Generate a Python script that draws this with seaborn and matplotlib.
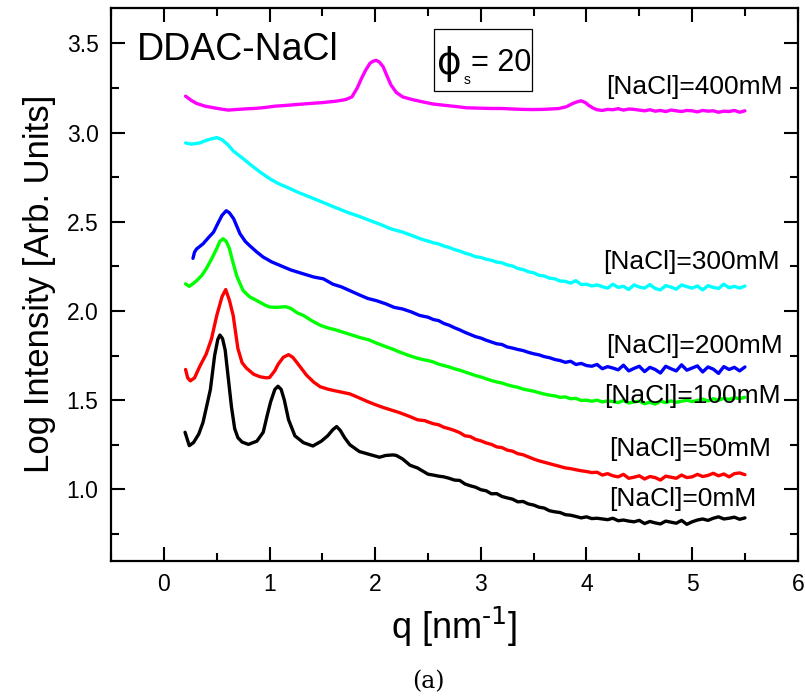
import numpy as np
import pandas as pd
import matplotlib
matplotlib.use("Agg")
import matplotlib.pyplot as plt
from matplotlib.ticker import MultipleLocator, FormatStrFormatter
from matplotlib.patches import Rectangle
import seaborn as sns

# ---- SAXS curves: log intensity vs q for DDAC at several NaCl concentrations ----
# low-q part (Bragg peaks) and high-q tail of each curve

q_0mM_low = [0.20, 0.24, 0.28, 0.33, 0.37, 0.41, 0.44, 0.48, 0.51, 0.53, 0.555, 0.58, 0.61, 0.64,
             0.67, 0.70, 0.74, 0.80, 0.88, 0.94, 0.98, 1.01, 1.05, 1.08, 1.11, 1.14, 1.18, 1.24,
             1.32, 1.41, 1.49, 1.55, 1.60, 1.635, 1.67, 1.71, 1.76, 1.85, 1.95, 2.04, 2.10, 2.17,
             2.20, 2.26, 2.33, 2.40]
I_0mM_low = [1.32, 1.245, 1.262, 1.31, 1.375, 1.48, 1.56, 1.75, 1.84, 1.865, 1.845, 1.78, 1.62, 1.46,
             1.34, 1.29, 1.265, 1.252, 1.27, 1.32, 1.42, 1.49, 1.56, 1.578, 1.56, 1.50, 1.39, 1.30,
             1.262, 1.243, 1.27, 1.30, 1.335, 1.352, 1.33, 1.29, 1.25, 1.212, 1.195, 1.18, 1.19, 1.193,
             1.19, 1.17, 1.135, 1.12]

q_50mM_low = [0.205, 0.225, 0.25, 0.29, 0.34, 0.40, 0.45, 0.50, 0.55, 0.585, 0.62, 0.656, 0.70, 0.74,
              0.78, 0.85, 0.91, 0.97, 1.00, 1.05, 1.08, 1.13, 1.18, 1.22, 1.26, 1.35, 1.42, 1.48, 1.55,
              1.60, 1.68, 1.76, 1.84, 1.92, 2.00, 2.08, 2.15, 2.23, 2.32, 2.40, 2.47]
I_50mM_low = [1.672, 1.625, 1.608, 1.625, 1.69, 1.758, 1.843, 1.974, 2.08, 2.12, 2.06, 1.974, 1.79, 1.71,
              1.68, 1.645, 1.631, 1.625, 1.627, 1.665, 1.70, 1.74, 1.755, 1.74, 1.71, 1.64, 1.60, 1.575,
              1.562, 1.555, 1.545, 1.535, 1.515, 1.494, 1.475, 1.458, 1.445, 1.43, 1.41, 1.39, 1.385]

q_100mM_low = [0.205, 0.24, 0.28, 0.31, 0.36, 0.40, 0.45, 0.50, 0.53, 0.56, 0.59, 0.62, 0.65, 0.69,
               0.75, 0.81, 0.88, 0.95, 1.00, 1.07, 1.15, 1.20, 1.26, 1.32, 1.40, 1.48, 1.55, 1.62, 1.70,
               1.78, 1.86, 1.94, 2.02, 2.10, 2.17, 2.23, 2.32, 2.40, 2.46]
I_100mM_low = [2.152, 2.138, 2.155, 2.17, 2.20, 2.236, 2.29, 2.35, 2.39, 2.405, 2.39, 2.35, 2.28, 2.195,
               2.114, 2.08, 2.058, 2.035, 2.022, 2.02, 2.024, 2.015, 1.99, 1.975, 1.945, 1.92, 1.905,
               1.895, 1.88, 1.865, 1.85, 1.838, 1.818, 1.80, 1.785, 1.77, 1.75, 1.735, 1.726]

q_200mM_low = [0.275, 0.29, 0.31, 0.37, 0.42, 0.47, 0.51, 0.55, 0.59, 0.62, 0.66, 0.72, 0.77, 0.81,
               0.88, 0.94, 1.02, 1.10, 1.20, 1.32, 1.42, 1.51, 1.60, 1.68, 1.76, 1.85, 1.93, 2.01, 2.10,
               2.18, 2.26, 2.34, 2.42]
I_200mM_low = [2.295, 2.33, 2.348, 2.376, 2.41, 2.442, 2.49, 2.536, 2.562, 2.55, 2.517, 2.433, 2.39, 2.367,
               2.33, 2.302, 2.275, 2.255, 2.23, 2.208, 2.19, 2.18, 2.15, 2.135, 2.114, 2.09, 2.07, 2.058,
               2.04, 2.02, 2.011, 1.995, 1.975]

q_300mM_low = [0.205, 0.26, 0.34, 0.42, 0.50, 0.55, 0.60, 0.66, 0.75, 0.83, 0.91, 1.00, 1.08, 1.16,
               1.27, 1.38, 1.50, 1.63, 1.75, 1.85, 1.95, 2.05, 2.15, 2.26, 2.36, 2.45]
I_300mM_low = [2.942, 2.935, 2.942, 2.96, 2.972, 2.96, 2.935, 2.895, 2.854, 2.815, 2.779, 2.742, 2.715,
               2.695, 2.665, 2.639, 2.61, 2.578, 2.55, 2.53, 2.507, 2.485, 2.46, 2.442, 2.42, 2.40]

q_400mM_low = [0.205, 0.26, 0.31, 0.39, 0.47, 0.54, 0.61, 0.70, 0.78, 0.85, 0.95, 1.05, 1.15, 1.25,
               1.38, 1.50, 1.63, 1.72, 1.78, 1.83, 1.87, 1.91, 1.95, 1.98, 2.01, 2.04, 2.075, 2.11, 2.15,
               2.20, 2.26, 2.35, 2.45, 2.55, 2.67, 2.78, 2.86, 2.98, 3.10, 3.20, 3.30, 3.40, 3.49, 3.58,
               3.66, 3.74, 3.81, 3.87, 3.91, 3.95, 3.99, 4.02, 4.06]
I_400mM_low = [3.204, 3.18, 3.163, 3.148, 3.139, 3.132, 3.126, 3.13, 3.133, 3.135, 3.14, 3.148, 3.152,
               3.157, 3.163, 3.168, 3.176, 3.185, 3.20, 3.25, 3.303, 3.35, 3.388, 3.40, 3.405, 3.395, 3.369,
               3.32, 3.266, 3.225, 3.20, 3.185, 3.172, 3.16, 3.152, 3.145, 3.139, 3.137, 3.135, 3.135,
               3.132, 3.13, 3.129, 3.13, 3.132, 3.135, 3.145, 3.163, 3.172, 3.178, 3.168, 3.153, 3.138]

# high-q tails, sampled every 0.05 nm^-1
q_tail = [2.50, 2.55, 2.60, 2.65, 2.70, 2.75, 2.80, 2.85, 2.90, 2.95, 3.00, 3.05, 3.10, 3.15, 3.20,
          3.25, 3.30, 3.35, 3.40, 3.45, 3.50, 3.55, 3.60, 3.65, 3.70, 3.75, 3.80, 3.85, 3.90, 3.95,
          4.00, 4.05, 4.10, 4.15, 4.20, 4.25, 4.30, 4.35, 4.40, 4.45, 4.50, 4.55, 4.60, 4.65, 4.70,
          4.75, 4.80, 4.85, 4.90, 4.95, 5.00, 5.05, 5.10, 5.15, 5.20, 5.25, 5.30, 5.35, 5.40, 5.45, 5.50]
I_0mM_tail = [1.085, 1.080, 1.074, 1.070, 1.062, 1.052, 1.050, 1.030, 1.020, 1.012, 0.998, 0.992, 0.975,
              0.976, 0.960, 0.952, 0.945, 0.930, 0.932, 0.918, 0.912, 0.900, 0.895, 0.880, 0.874, 0.870,
              0.858, 0.855, 0.848, 0.840, 0.846, 0.836, 0.838, 0.834, 0.830, 0.838, 0.824, 0.828, 0.822,
              0.818, 0.826, 0.808, 0.820, 0.812, 0.806, 0.822, 0.816, 0.810, 0.826, 0.804, 0.818, 0.828,
              0.834, 0.826, 0.838, 0.846, 0.834, 0.838, 0.844, 0.832, 0.840]
I_50mM_tail = [1.378, 1.368, 1.362, 1.348, 1.340, 1.330, 1.318, 1.300, 1.296, 1.280, 1.272, 1.260, 1.252,
               1.238, 1.234, 1.220, 1.214, 1.200, 1.194, 1.182, 1.170, 1.160, 1.152, 1.144, 1.136, 1.128,
               1.120, 1.116, 1.110, 1.104, 1.100, 1.094, 1.096, 1.080, 1.088, 1.076, 1.070, 1.084, 1.062,
               1.068, 1.076, 1.058, 1.072, 1.066, 1.052, 1.074, 1.068, 1.062, 1.080, 1.066, 1.070, 1.084,
               1.072, 1.078, 1.090, 1.076, 1.086, 1.070, 1.088, 1.092, 1.082]
I_100mM_tail = [1.722, 1.714, 1.702, 1.694, 1.686, 1.676, 1.668, 1.658, 1.648, 1.638, 1.630, 1.620, 1.610,
                1.602, 1.596, 1.586, 1.578, 1.572, 1.562, 1.556, 1.550, 1.542, 1.534, 1.528, 1.524, 1.516,
                1.518, 1.508, 1.510, 1.498, 1.500, 1.494, 1.500, 1.490, 1.496, 1.492, 1.486, 1.498, 1.484,
                1.490, 1.494, 1.480, 1.488, 1.478, 1.494, 1.486, 1.496, 1.488, 1.494, 1.500, 1.492, 1.498,
                1.506, 1.496, 1.508, 1.500, 1.510, 1.504, 1.514, 1.508, 1.516]
I_200mM_tail = [1.965, 1.952, 1.946, 1.930, 1.920, 1.906, 1.894, 1.880, 1.868, 1.856, 1.848, 1.836, 1.826,
                1.816, 1.812, 1.798, 1.792, 1.784, 1.778, 1.768, 1.760, 1.754, 1.744, 1.738, 1.728, 1.722,
                1.712, 1.718, 1.700, 1.706, 1.694, 1.690, 1.700, 1.676, 1.688, 1.680, 1.670, 1.696, 1.664,
                1.678, 1.690, 1.660, 1.684, 1.672, 1.652, 1.690, 1.676, 1.664, 1.698, 1.668, 1.680, 1.692,
                1.658, 1.686, 1.674, 1.650, 1.688, 1.672, 1.684, 1.664, 1.686]
I_300mM_tail = [2.392, 2.382, 2.376, 2.364, 2.356, 2.344, 2.336, 2.324, 2.316, 2.304, 2.300, 2.290, 2.284,
                2.274, 2.270, 2.258, 2.252, 2.238, 2.232, 2.220, 2.214, 2.200, 2.196, 2.184, 2.180, 2.168,
                2.166, 2.156, 2.170, 2.148, 2.150, 2.140, 2.146, 2.136, 2.128, 2.150, 2.132, 2.138, 2.120,
                2.146, 2.134, 2.128, 2.148, 2.126, 2.118, 2.142, 2.134, 2.122, 2.146, 2.136, 2.128, 2.140,
                2.118, 2.142, 2.132, 2.126, 2.150, 2.130, 2.138, 2.128, 2.140]
q_400mM_tail = [4.10, 4.15, 4.20, 4.25, 4.30, 4.35, 4.40, 4.45, 4.50, 4.55, 4.60, 4.65, 4.70, 4.75,
                4.80, 4.85, 4.90, 4.95, 5.00, 5.05, 5.10, 5.15, 5.20, 5.25, 5.30, 5.35, 5.40, 5.45, 5.50]
I_400mM_tail = [3.128, 3.124, 3.130, 3.128, 3.134, 3.126, 3.132, 3.130, 3.126, 3.122, 3.128, 3.120, 3.124,
                3.118, 3.126, 3.122, 3.118, 3.124, 3.122, 3.116, 3.124, 3.120, 3.122, 3.114, 3.120, 3.118,
                3.124, 3.114, 3.122]

series_names = ["[NaCl]=0mM", "[NaCl]=50mM", "[NaCl]=100mM",
                "[NaCl]=200mM", "[NaCl]=300mM", "[NaCl]=400mM"]
series_q = [q_0mM_low + q_tail, q_50mM_low + q_tail, q_100mM_low + q_tail,
            q_200mM_low + q_tail, q_300mM_low + q_tail, q_400mM_low + q_400mM_tail]
series_I = [I_0mM_low + I_0mM_tail, I_50mM_low + I_50mM_tail, I_100mM_low + I_100mM_tail,
            I_200mM_low + I_200mM_tail, I_300mM_low + I_300mM_tail, I_400mM_low + I_400mM_tail]
series_colors = ["#000000", "#ff0000", "#00ff00", "#0000ff", "#00ffff", "#ff00ff"]
# label anchor (q, log I) for each curve's tag
label_q = [4.21, 4.21, 4.17, 4.19, 4.16, 4.19]
label_I = [0.944, 1.225, 1.522, 1.803, 2.275, 3.258]

frames = []
for name, qv, iv in zip(series_names, series_q, series_I):
    frames.append(pd.DataFrame({"q": qv, "logI": iv, "sample": name}))
df = pd.concat(frames, ignore_index=True)

sns.set_style("ticks")
plt.rcParams["font.family"] = ["Liberation Sans", "DejaVu Sans"]
plt.rcParams["text.color"] = "black"
plt.rcParams["axes.labelcolor"] = "black"

fig = plt.figure(figsize=(8.05, 7.0), dpi=100)
ax = fig.add_axes([0.138, 0.199, 0.853, 0.790])

sns.lineplot(data=df, x="q", y="logI", hue="sample", hue_order=series_names,
             palette=dict(zip(series_names, series_colors)), sort=False,
             estimator=None, legend=False, linewidth=2.4, ax=ax)

ax.set_xlim(-0.5, 6.0)
ax.set_ylim(0.6, 3.7)
ax.xaxis.set_major_locator(MultipleLocator(1))
ax.xaxis.set_minor_locator(MultipleLocator(0.5))
ax.yaxis.set_major_locator(MultipleLocator(0.5))
ax.yaxis.set_minor_locator(MultipleLocator(0.25))
ax.yaxis.set_major_formatter(FormatStrFormatter("%.1f"))
ax.tick_params(which="both", direction="in", top=True, right=True, width=1.5,
               labelsize=16.5, colors="black")
ax.tick_params(which="major", length=10)
ax.tick_params(which="minor", length=6)
ax.tick_params(axis="y", pad=9)
ax.tick_params(axis="x", pad=9)
for sp in ax.spines.values():
    sp.set_linewidth(1.6)
    sp.set_color("black")

ax.set_xlabel("q [nm$^{\\text{-1}}$]", fontsize=26, labelpad=6)
ax.set_ylabel("Log Intensity [Arb. Units]", fontsize=25, labelpad=8)

for name, lq, li in zip(series_names, label_q, label_I):
    ax.text(lq, li, name, fontsize=19, va="center", ha="left")

ax.text(0.038, 0.906, "DDAC-NaCl", transform=ax.transAxes, fontsize=27,
        ha="left", va="baseline")

# boxed surfactant volume fraction tag
ax.add_patch(Rectangle((0.470, 0.850), 0.143, 0.112, transform=ax.transAxes,
                       fill=False, edgecolor="black", linewidth=0.9))
ax.text(0.475, 0.880, "\u03d5", transform=ax.transAxes, fontsize=27,
        ha="left", va="baseline", family=["DejaVu Sans"])
ax.text(0.513, 0.862, "s", transform=ax.transAxes, fontsize=10,
        ha="left", va="baseline")
ax.text(0.524, 0.886, "= 20", transform=ax.transAxes, fontsize=22,
        ha="left", va="baseline")

fig.text(0.532, 0.026, "(a)", fontsize=17, ha="center", va="center",
         family=["DejaVu Serif"])

fig.savefig("out.png", dpi=100)
